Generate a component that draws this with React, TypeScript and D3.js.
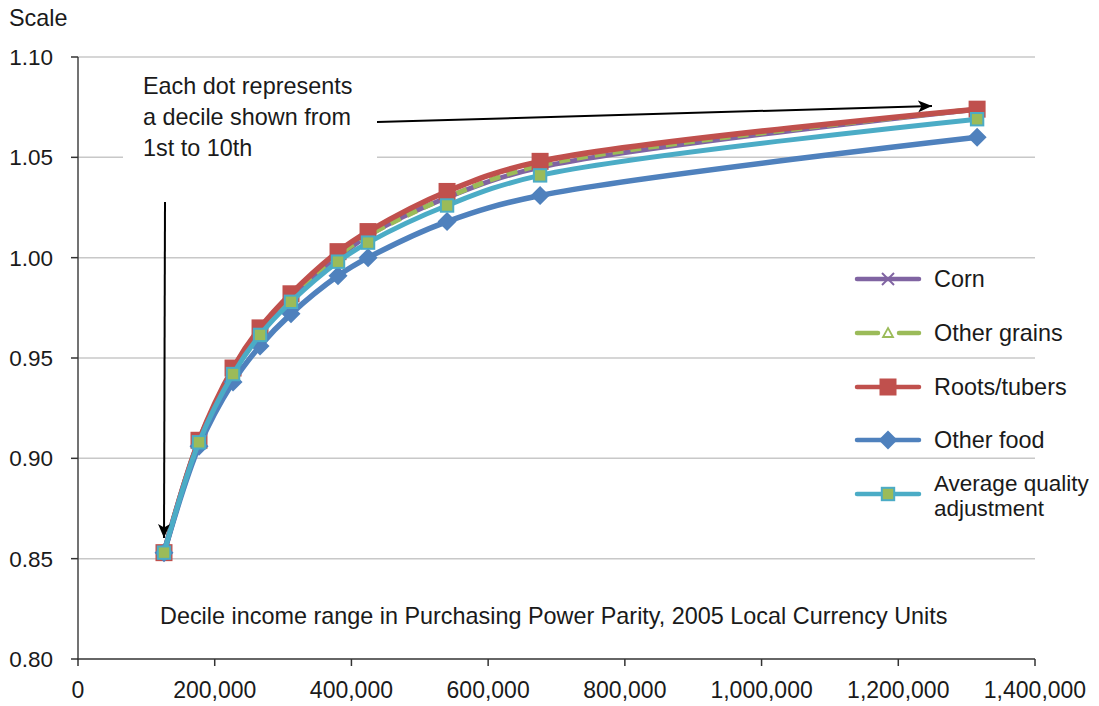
import React from 'react';
import * as d3 from 'd3';

const incomes = [125800, 177000, 226800, 266300, 311600, 380400, 424300, 539900, 676000, 1315300];
const corn = [0.853, 0.909, 0.943, 0.963, 0.980, 1.000, 1.011, 1.030, 1.045, 1.074];
const otherGrains = [0.853, 0.909, 0.943, 0.963, 0.981, 1.001, 1.011, 1.030, 1.046, 1.074];
const rootsTubers = [0.853, 0.909, 0.945, 0.965, 0.982, 1.003, 1.013, 1.033, 1.048, 1.074];
const otherFood = [0.853, 0.906, 0.938, 0.956, 0.972, 0.991, 1.000, 1.018, 1.031, 1.060];
const averageQuality = [0.853, 0.908, 0.942, 0.9615, 0.978, 0.998, 1.0075, 1.026, 1.041, 1.069];

const yTicks = [0.8, 0.85, 0.9, 0.95, 1.0, 1.05, 1.1];
const xTicks = [0, 200000, 400000, 600000, 800000, 1000000, 1200000, 1400000];

const FONT = '"Liberation Sans", Arial, Helvetica, sans-serif';

type Marker = 'x' | 'tri' | 'square' | 'diamond' | 'avgsq';
interface Series {
  name: string[];
  values: number[];
  color: string;
  width: number;
  dash?: string;
  marker: Marker;
}

const series: Series[] = [
  { name: ['Corn'], values: corn, color: '#8064A2', width: 5, marker: 'x' },
  { name: ['Other grains'], values: otherGrains, color: '#9BBB59', width: 5, dash: '11 7', marker: 'tri' },
  { name: ['Roots/tubers'], values: rootsTubers, color: '#C0504D', width: 5.5, marker: 'square' },
  { name: ['Other food'], values: otherFood, color: '#4F81BD', width: 5.5, marker: 'diamond' },
  { name: ['Average quality', 'adjustment'], values: averageQuality, color: '#4BACC6', width: 5, marker: 'avgsq' },
];

function MarkerShape({ kind, x, y, color }: { kind: Marker; x: number; y: number; color: string }) {
  if (kind === 'x') {
    const s = 6;
    return (
      <g stroke={color} strokeWidth={2}>
        <line x1={x - s} y1={y - s} x2={x + s} y2={y + s} />
        <line x1={x - s} y1={y + s} x2={x + s} y2={y - s} />
      </g>
    );
  }
  if (kind === 'tri') {
    const s = 5;
    return (
      <path d={`M${x},${y - s}L${x + s},${y + s * 0.8}L${x - s},${y + s * 0.8}Z`} fill="#fff" stroke={color} strokeWidth={1.8} />
    );
  }
  if (kind === 'square') {
    const s = 8.5;
    return <rect x={x - s} y={y - s} width={2 * s} height={2 * s} fill={color} />;
  }
  if (kind === 'diamond') {
    const s = 9.5;
    return <path d={`M${x},${y - s}L${x + s},${y}L${x},${y + s}L${x - s},${y}Z`} fill={color} />;
  }
  const s = 6.2;
  return <rect x={x - s} y={y - s} width={2 * s} height={2 * s} fill="#9BBB59" stroke={color} strokeWidth={2} />;
}

export default function App() {
  const W = 1099;
  const H = 706;
  const left = 78, right = 1035, top = 57, bottom = 659;

  const x = d3.scaleLinear().domain([0, 1400000]).range([left, right]);
  const y = d3.scaleLinear().domain([0.8, 1.1]).range([bottom, top]);

  const line = d3
    .line<number>()
    .x((_, i) => x(incomes[i]))
    .y((d) => y(d))
    .curve(d3.curveCatmullRom.alpha(0.5));

  const fmtY = d3.format('.2f');
  const fmtX = d3.format(',');

  const legendY = [279, 333, 387, 440, 494];
  const FS = 23.4;

  return (
    <svg
      width={W}
      height={H}
      style={{ position: 'absolute', left: 0, top: 0, background: '#fff' }}
      fontFamily={FONT}
    >
      <rect x={0} y={0} width={W} height={H} fill="#fff" />
      {/* gridlines */}
      {yTicks.slice(1).map((t) => (
        <line key={t} x1={left} x2={right} y1={y(t)} y2={y(t)} stroke="#c8c8c8" strokeWidth={1.5} />
      ))}
      {/* annotation box covering gridline */}
      <rect x={123} y={66} width={254} height={100} fill="#fff" />
      <text fontSize={FS} fill="#1a1a1a">
        <tspan x={143} y={94}>Each dot represents</tspan>
        <tspan x={143} y={125}>a decile shown from</tspan>
        <tspan x={143} y={156}>1st to 10th</tspan>
      </text>

      {/* axes */}
      <line x1={left} x2={left} y1={top} y2={bottom + 1} stroke="#444" strokeWidth={1.5} />
      <line x1={left - 1} x2={right} y1={bottom} y2={bottom} stroke="#333" strokeWidth={1.5} />
      {yTicks.map((t) => (
        <g key={t}>
          <line x1={left - 7} x2={left} y1={y(t)} y2={y(t)} stroke="#333" strokeWidth={1.5} />
          <text x={53} y={y(t)} dy="0.35em" textAnchor="end" fontSize={22.5} fill="#1a1a1a">
            {fmtY(t)}
          </text>
        </g>
      ))}
      {xTicks.map((t) => (
        <g key={t}>
          <line x1={x(t)} x2={x(t)} y1={bottom} y2={bottom + 7} stroke="#333" strokeWidth={1.5} />
          <text x={x(t)} y={690} dy="0.35em" textAnchor="middle" fontSize={23} fill="#1a1a1a">
            {fmtX(t)}
          </text>
        </g>
      ))}
      <text x={9} y={18} dy="0.35em" fontSize={FS} fill="#1a1a1a">Scale</text>
      <text x={160} y={616} dy="0.35em" fontSize={FS} fill="#1a1a1a">
        Decile income range in Purchasing Power Parity, 2005 Local Currency Units
      </text>

      {/* series */}
      {series.map((s) => (
        <g key={s.name.join(' ')}>
          <path
            d={line(s.values) || ''}
            fill="none"
            stroke={s.color}
            strokeWidth={s.width}
            strokeDasharray={s.dash}
            strokeLinejoin="round"
          />
          {s.values.map((v, i) => (
            <MarkerShape key={i} kind={s.marker} x={x(incomes[i])} y={y(v)} color={s.color} />
          ))}
        </g>
      ))}

      {/* arrows */}
      <defs>
        <marker id="ah" viewBox="0 0 14 12" refX={14} refY={6} markerWidth={14} markerHeight={12} markerUnits="userSpaceOnUse" orient="auto">
          <path d="M0,0L14,6L0,12L3.5,6Z" fill="#000" />
        </marker>
      </defs>
      <line x1={377} y1={122} x2={932} y2={106} stroke="#000" strokeWidth={2} markerEnd="url(#ah)" />
      <line x1={165} y1={202} x2={164} y2={538} stroke="#000" strokeWidth={2} markerEnd="url(#ah)" />

      {/* legend */}
      {series.map((s, i) => {
        const ly = legendY[i];
        return (
          <g key={'lg' + i}>
            {s.marker === 'tri' ? (
              <g stroke={s.color} strokeWidth={4.5} strokeLinecap="round">
                <line x1={857} x2={878} y1={ly} y2={ly} />
                <line x1={899} x2={919} y1={ly} y2={ly} />
              </g>
            ) : (
              <line x1={857} x2={919} y1={ly} y2={ly} stroke={s.color} strokeWidth={4.5} strokeLinecap="round" />
            )}
            <MarkerShape kind={s.marker} x={888} y={ly} color={s.color} />
            {s.name.length === 1 ? (
              <text x={934} y={ly} dy="0.35em" fontSize={FS} fill="#1a1a1a">{s.name[0]}</text>
            ) : (
              <text fontSize={22.5} fill="#1a1a1a">
                <tspan x={934} y={483} dy="0.35em">{s.name[0]}</tspan>
                <tspan x={934} y={508} dy="0.35em">{s.name[1]}</tspan>
              </text>
            )}
          </g>
        );
      })}
    </svg>
  );
}
